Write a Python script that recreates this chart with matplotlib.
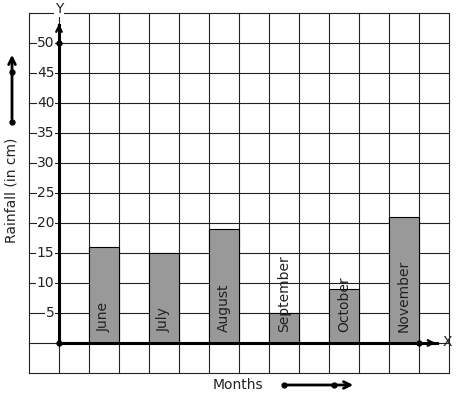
import matplotlib
matplotlib.use("Agg")
import matplotlib.pyplot as plt

# data
months = ["June", "July", "August", "September", "October", "November"]
rainfall = [16, 15, 19, 5, 9, 21]
y_ticks = [5, 10, 15, 20, 25, 30, 35, 40, 45, 50]

fig = plt.figure(figsize=(4.57, 3.99), dpi=100)
# grid from x=29..449 px, y=13..373 px
ax = fig.add_axes([29 / 457, 26 / 399, 420 / 457, 360 / 399])
ax.set_xlim(-1, 13)
ax.set_ylim(-5, 55)
ax.axis("off")

# graph paper
for gx in range(-1, 14):
    ax.plot([gx, gx], [-5, 55], color="#222222", lw=0.8, clip_on=False, zorder=1)
for gy in range(-5, 56, 5):
    ax.plot([-1, 13], [gy, gy], color="#222222", lw=0.8, clip_on=False, zorder=1)

# bars, one grid cell wide, skipping a cell between each
xpos = [1.5 + 2 * i for i in range(len(months))]
ax.bar(xpos, rainfall, width=1, color="#999999", edgecolor="black", lw=0.8, zorder=2)
for x, name in zip(xpos, months):
    ax.text(x, 1.8, name, rotation=90, ha="center", va="bottom", fontsize=10,
            color="#222222", zorder=5)

# axes lines
ax.plot([0, 12.6], [0, 0], color="black", lw=2.2, zorder=4, clip_on=False)
ax.plot([0, 0], [0, 53], color="black", lw=2.2, zorder=4, clip_on=False)
ax.annotate("", xy=(12.65, 0), xytext=(12.2, 0),
            arrowprops=dict(arrowstyle="->", lw=1.6, color="black"), annotation_clip=False)
ax.annotate("", xy=(0, 53.2), xytext=(0, 52.5),
            arrowprops=dict(arrowstyle="->", lw=1.6, color="black"), annotation_clip=False)
ax.plot([0, 0, 12], [0, 50, 0], "o", color="black", ms=3.5, ls="none", zorder=6, clip_on=False)
ax.text(12.95, 0.2, "X", ha="center", va="center", fontsize=10, color="#222222")
ax.text(0, 55.6, "Y", ha="center", va="center", fontsize=10, color="#222222",
        bbox=dict(facecolor="white", edgecolor="none", pad=0.5))

for t in y_ticks:
    ax.text(-0.15, t, str(t), ha="right", va="center", fontsize=10, color="#222222",
            bbox=dict(facecolor="white", edgecolor="none", pad=0.3), zorder=3)

# side labels with little arrows
fig.text(12 / 457, 1 - 190 / 399, "Rainfall (in cm)", rotation=90, ha="center",
         va="center", fontsize=10, color="#222222")
fig.text(238 / 457, 1 - 385 / 399, "Months", ha="center", va="center", fontsize=10,
         color="#222222")

fig.add_artist(matplotlib.patches.FancyArrowPatch(
    (12 / 457, 1 - 122 / 399), (12 / 457, 1 - 52 / 399), transform=fig.transFigure,
    arrowstyle="->", mutation_scale=12, lw=2, color="black"))
fig.add_artist(matplotlib.lines.Line2D([12 / 457, 12 / 457], [1 - 122 / 399, 1 - 72 / 399],
                                       transform=fig.transFigure, marker="o", ls="none",
                                       ms=3.5, color="black"))
fig.add_artist(matplotlib.patches.FancyArrowPatch(
    (284 / 457, 1 - 385 / 399), (356 / 457, 1 - 385 / 399), transform=fig.transFigure,
    arrowstyle="->", mutation_scale=12, lw=2, color="black"))
fig.add_artist(matplotlib.lines.Line2D([284 / 457, 334 / 457], [1 - 385 / 399, 1 - 385 / 399],
                                       transform=fig.transFigure, marker="o", ls="none",
                                       ms=3.5, color="black"))

fig.savefig("out.png", dpi=100)
